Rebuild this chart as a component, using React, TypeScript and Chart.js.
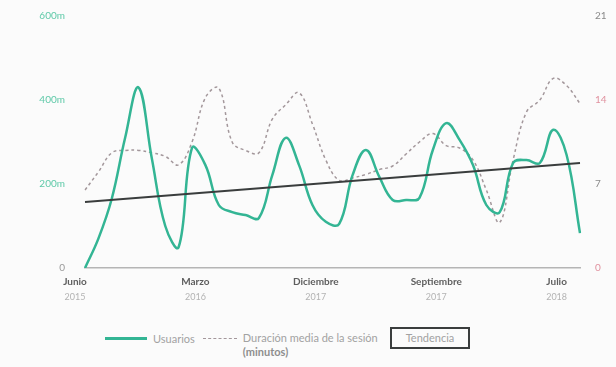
import React, { useEffect, useRef } from 'react';
import { Chart, registerables } from 'chart.js';

Chart.register(...registerables);

const categories = [
  'jun 2015', 'jul 2015', 'ago 2015', 'sep 2015', 'oct 2015', 'nov 2015', 'dic 2015',
  'ene 2016', 'feb 2016', 'mar 2016', 'abr 2016', 'may 2016', 'jun 2016', 'jul 2016',
  'ago 2016', 'sep 2016', 'oct 2016', 'nov 2016', 'dic 2016', 'ene 2017', 'feb 2017',
  'mar 2017', 'abr 2017', 'may 2017', 'jun 2017', 'jul 2017', 'ago 2017', 'sep 2017',
  'oct 2017', 'nov 2017', 'dic 2017', 'ene 2018', 'feb 2018', 'mar 2018', 'abr 2018',
  'may 2018', 'jun 2018', 'jul 2018',
];

const usuarios = [
  0, 70, 165, 310, 430, 260, 100, 50, 286, 245,
  150, 133, 126, 119, 221, 310, 245, 150, 110, 105,
  221, 281, 217, 162, 162, 167, 281, 345, 305, 245,
  150, 133, 250, 257, 250, 329, 269, 83,
];

const duracion = [
  6.5, 8, 9.6, 9.8, 9.8, 9.6, 9.3, 8.6, 10.5, 14.2,
  15, 10.5, 9.8, 9.6, 12.4, 13.6, 14.6, 12, 9, 7.3,
  7.5, 7.8, 8.2, 8.5, 9.5, 10.5, 11.2, 10.2, 10, 9,
  6.5, 3.8, 9, 13, 14, 15.8, 15.2, 13.7,
];

const trendStart = 157;
const trendEnd = 250;

const tickIndex = [0, 9, 18, 27, 36];
const tickMonths = ['Junio', 'Marzo', 'Diciembre', 'Septiembre', 'Julio'];
const tickYears = ['2015', '2016', '2017', '2017', '2018'];

const FONT = 'Lato, "Open Sans", sans-serif';
const TEAL = '#33b594';
const DASH = '#a3979b';
const TREND = '#3a3d3d';

export default function App() {
  const ref = useRef<HTMLCanvasElement | null>(null);

  useEffect(() => {
    if (!ref.current) return;
    const trend = categories.map((_, i) =>
      i === 0 ? trendStart : i === categories.length - 1 ? trendEnd : null
    );
    const chart = new Chart(ref.current, {
      type: 'line',
      data: {
        labels: categories,
        datasets: [
          {
            label: 'Tendencia',
            data: trend,
            yAxisID: 'y',
            borderColor: TREND,
            borderWidth: 2,
            pointRadius: 0,
            spanGaps: true,
            tension: 0,
            order: 0,
          },
          {
            label: 'Usuarios',
            data: usuarios,
            yAxisID: 'y',
            borderColor: TEAL,
            borderWidth: 2.5,
            pointRadius: 0,
            tension: 0.4,
            order: 1,
          },
          {
            label: 'Duración media de la sesión (minutos)',
            data: duracion,
            yAxisID: 'y1',
            borderColor: DASH,
            borderWidth: 1.5,
            borderDash: [3, 3],
            pointRadius: 0,
            tension: 0.4,
            order: 2,
          },
        ],
      },
      options: {
        animation: false,
        responsive: true,
        maintainAspectRatio: false,
        layout: { padding: { top: 0, left: 0, right: 0, bottom: 0 } },
        plugins: { legend: { display: false }, tooltip: { enabled: false } },
        scales: {
          x: {
            type: 'category',
            position: 'bottom',
            weight: 0,
            grid: { display: false, drawTicks: false },
            border: { display: true, color: '#b5b5b5', width: 1.5 },
            afterFit: (s: any) => { s.height = 22; },
            ticks: {
              autoSkip: false,
              maxRotation: 0,
              padding: 8,
              labelOffset: -10,
              color: '#5e5e5e',
              font: { family: FONT, size: 10, weight: 'bold' },
              callback: (_v: any, i: number) => {
                const k = tickIndex.indexOf(i);
                return k >= 0 ? tickMonths[k] : '';
              },
            },
          },
          x2: {
            type: 'category',
            position: 'bottom',
            weight: 1,
            grid: { display: false, drawTicks: false },
            border: { display: false },
            afterFit: (s: any) => { s.height = 18; },
            ticks: {
              autoSkip: false,
              maxRotation: 0,
              padding: 2,
              labelOffset: -10,
              color: '#b3b3b3',
              font: { family: FONT, size: 9 },
              callback: (_v: any, i: number) => {
                const k = tickIndex.indexOf(i);
                return k >= 0 ? tickYears[k] : '';
              },
            },
          },
          y: {
            position: 'left',
            min: 0,
            max: 600,
            grid: { display: false, drawTicks: false },
            border: { display: false },
            afterFit: (s: any) => { s.width = 85; },
            ticks: {
              stepSize: 200,
              padding: 20,
              color: (ctx: any) => (ctx.tick && ctx.tick.value === 0 ? '#9a9a9a' : '#5ec9a8'),
              font: { family: FONT, size: 10 },
              callback: (v: any) => (Number(v) === 0 ? '0' : v + 'm'),
            },
          },
          y1: {
            position: 'right',
            min: 0,
            max: 21,
            grid: { display: false, drawTicks: false },
            border: { display: false },
            afterFit: (s: any) => { s.width = 36; },
            ticks: {
              stepSize: 7,
              padding: 15,
              color: (ctx: any) => {
                const v = ctx.tick ? ctx.tick.value : 0;
                return v === 0 || v === 14 ? '#e0929f' : '#8a8a8a';
              },
              font: { family: FONT, size: 10 },
            },
          },
        },
      },
    });
    return () => chart.destroy();
  }, []);

  const legendText: React.CSSProperties = { color: '#a2a2a2', fontSize: 11, fontFamily: FONT };

  return (
    <div
      style={{
        position: 'absolute',
        left: 0,
        top: 0,
        width: 616,
        height: 367,
        background: '#fbfbfb',
        overflow: 'hidden',
      }}
    >
      <div style={{ position: 'absolute', left: 0, top: -10, width: 616, height: 318 }}>
        <canvas ref={ref} />
      </div>
      <div
        style={{
          position: 'absolute',
          left: 105,
          top: 327,
          display: 'flex',
          alignItems: 'flex-start',
          ...legendText,
        }}
      >
        <div style={{ display: 'flex', alignItems: 'center', height: 22 }}>
          <span style={{ display: 'inline-block', width: 42, height: 3, background: TEAL, marginRight: 6 }} />
          <span>Usuarios</span>
        </div>
        <div style={{ display: 'flex', alignItems: 'flex-start', marginLeft: 8 }}>
          <div style={{ display: 'flex', alignItems: 'center', height: 22 }}>
            <span
              style={{
                display: 'inline-block',
                width: 34,
                height: 0,
                borderTop: '1.5px dashed ' + DASH,
                marginRight: 6,
              }}
            />
          </div>
          <div style={{ lineHeight: '14px', paddingTop: 4 }}>
            <div>Duración media de la sesión</div>
            <div style={{ fontWeight: 'bold', color: '#8e8e8e' }}>(minutos)</div>
          </div>
        </div>
        <div
          style={{
            marginLeft: 12,
            border: '2px solid ' + TREND,
            padding: '0px 14px',
            height: 18,
            lineHeight: '18px',
          }}
        >
          Tendencia
        </div>
      </div>
    </div>
  );
}
